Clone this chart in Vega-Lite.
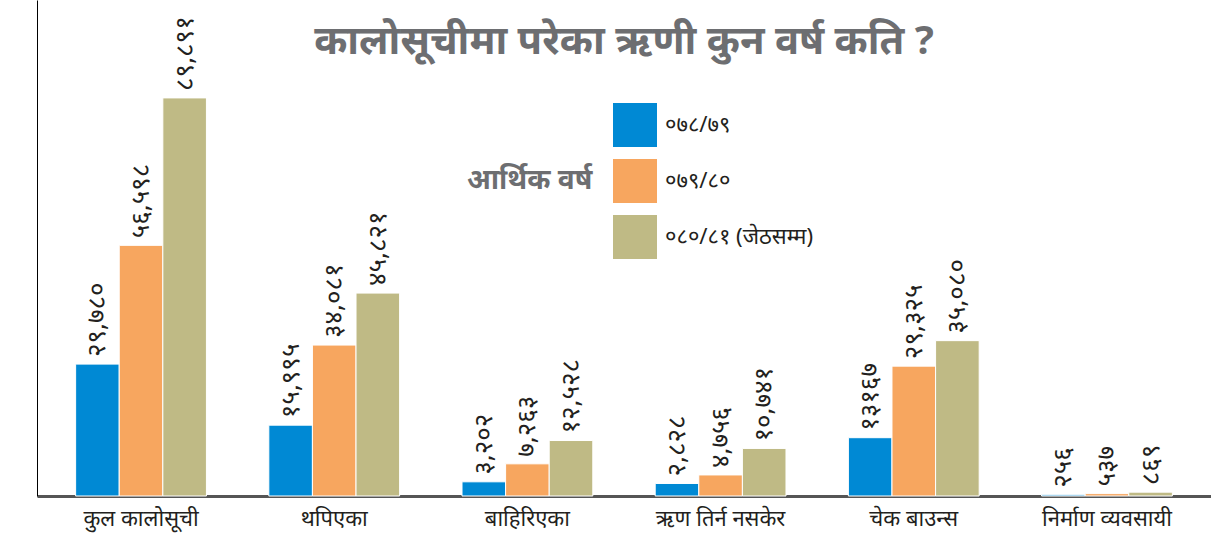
{
  "$schema": "https://vega.github.io/schema/vega-lite/v6.json",
  "width": 1174,
  "height": 496,
  "autosize": {"type": "none"},
  "padding": {"left": 37, "top": 0, "right": 0, "bottom": 55},
  "background": "white",
  "title": {
    "text": "कालोसूचीमा परेका ऋणी कुन वर्ष कति ?",
    "anchor": "middle",
    "frame": "group",
    "offset": -62,
    "fontSize": 40,
    "fontWeight": "bold",
    "color": "#6d6e71",
    "font": "Noto Sans"
  },
  "data": {
    "values": [
      {"cat": "कुल कालोसूची", "year": "०७८/७९", "value": 29780, "label": "२९,७८०"},
      {"cat": "कुल कालोसूची", "year": "०७९/८०", "value": 56598, "label": "५६,५९८"},
      {"cat": "कुल कालोसूची", "year": "०८०/८१", "value": 89891, "label": "८९,८९१"},
      {"cat": "थपिएका", "year": "०७८/७९", "value": 15995, "label": "१५,९९५"},
      {"cat": "थपिएका", "year": "०७९/८०", "value": 34081, "label": "३४,०८१"},
      {"cat": "थपिएका", "year": "०८०/८१", "value": 45821, "label": "४५,८२१"},
      {"cat": "बाहिरिएका", "year": "०७८/७९", "value": 3202, "label": "३,२०२"},
      {"cat": "बाहिरिएका", "year": "०७९/८०", "value": 7263, "label": "७,२६३"},
      {"cat": "बाहिरिएका", "year": "०८०/८१", "value": 12528, "label": "१२,५२८"},
      {"cat": "ऋण तिर्न नसकेर", "year": "०७८/७९", "value": 2828, "label": "२,८२८"},
      {"cat": "ऋण तिर्न नसकेर", "year": "०७९/८०", "value": 4756, "label": "४,७५६"},
      {"cat": "ऋण तिर्न नसकेर", "year": "०८०/८१", "value": 10741, "label": "१०,७४१"},
      {"cat": "चेक बाउन्स", "year": "०७८/७९", "value": 13167, "label": "१३१६७"},
      {"cat": "चेक बाउन्स", "year": "०७९/८०", "value": 29325, "label": "२९,३२५"},
      {"cat": "चेक बाउन्स", "year": "०८०/८१", "value": 35080, "label": "३५,०८०"},
      {"cat": "निर्माण व्यवसायी", "year": "०७८/७९", "value": 256, "label": "२५६"},
      {"cat": "निर्माण व्यवसायी", "year": "०७९/८०", "value": 537, "label": "५३७"},
      {"cat": "निर्माण व्यवसायी", "year": "०८०/८१", "value": 869, "label": "८६९"}
    ]
  },
  "encoding": {
    "x": {
      "field": "cat",
      "type": "nominal",
      "sort": null,
      "scale": {"paddingInner": 0.323, "paddingOuter": 0.2},
      "axis": {
        "title": null,
        "labelAngle": 0,
        "labelFontSize": 22,
        "labelColor": "#231f20",
        "labelFont": "Noto Sans",
        "labelPadding": 12,
        "ticks": false,
        "domainColor": "#555555",
        "domainWidth": 3
      }
    },
    "xOffset": {"field": "year", "type": "nominal", "sort": null, "scale": {"paddingInner": 0}},
    "y": {
      "field": "value",
      "type": "quantitative",
      "scale": {"domain": [0, 112000], "nice": false},
      "axis": {
        "title": null,
        "labels": false,
        "ticks": false,
        "grid": false,
        "domainColor": "#000000",
        "domainWidth": 1
      }
    }
  },
  "layer": [
    {
      "mark": {"type": "bar", "stroke": "white", "strokeWidth": 1},
      "encoding": {
        "color": {
          "field": "year",
          "type": "nominal",
          "sort": null,
          "scale": {"domain": ["०७८/७९", "०७९/८०", "०८०/८१"], "range": ["#0089d4", "#f7a65f", "#bfba85"]},
          "legend": {
            "title": "आर्थिक वर्ष",
            "titleOrient": "left",
            "titleAnchor": "middle",
            "titleFontSize": 28,
            "titleFontWeight": "bold",
            "titleColor": "#6d6e71",
            "titleFont": "Noto Sans",
            "titlePadding": 20,
            "orient": "none",
            "legendX": 430,
            "legendY": 103,
            "symbolType": "square",
            "symbolSize": 1936,
            "symbolStrokeWidth": 0,
            "symbolOpacity": 1,
            "rowPadding": 12,
            "labelFontSize": 22,
            "labelLimit": 400,
            "labelColor": "#231f20",
            "labelFont": "Noto Sans",
            "labelOffset": 8,
            "labelExpr": "datum.label == '०८०/८१' ? datum.label + '  (जेठसम्म)' : datum.label"
          }
        }
      }
    },
    {
      "mark": {
        "type": "text",
        "angle": 270,
        "align": "left",
        "baseline": "middle",
        "dx": 7,
        "fontSize": 26,
        "font": "Noto Sans",
        "color": "#231f20"
      },
      "encoding": {
        "text": {"field": "label", "type": "nominal"}
      }
    }
  ],
  "config": {"view": {"stroke": null}}
}
